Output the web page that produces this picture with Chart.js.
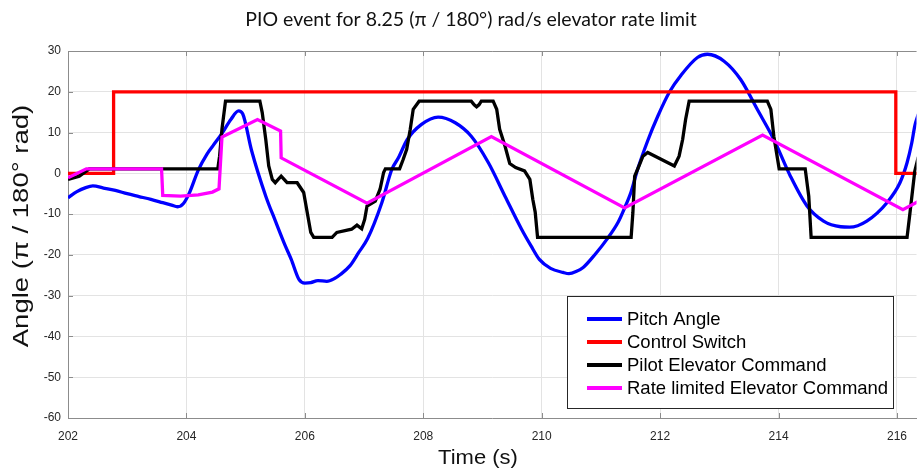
<!DOCTYPE html>
<html>
<head>
<meta charset="utf-8">
<script src="https://cdn.jsdelivr.net/npm/chart.js@4.4.0/dist/chart.umd.min.js"></script>
<style>
  html, body { margin: 0; padding: 0; background: #fff; }
</style>
</head>
<body>
<canvas id="pio" width="918" height="471"></canvas>
<script>
// time in s, angles in pi/180 rad
const pitchT = [202.0, 202.15, 202.3, 202.42, 202.6, 202.8, 203.0, 203.2, 203.4, 203.6,
  203.75, 203.85, 203.95, 204.05, 204.2, 204.35, 204.45, 204.6, 204.75, 204.88,
  204.95, 205.1, 205.34, 205.5, 205.67, 205.77, 205.9, 206.0, 206.1, 206.22,
  206.37, 206.5, 206.6, 206.76, 206.91, 207.06, 207.3, 207.47, 207.58, 207.73,
  207.97, 208.25, 208.54, 208.81, 209.1, 209.38, 209.66, 209.82, 209.96, 210.15,
  210.36, 210.46, 210.58, 210.7, 210.9, 211.1, 211.29, 211.4, 211.51, 211.62,
  211.79, 211.96, 212.16, 212.35, 212.63, 212.8, 213.08, 213.36, 213.64, 213.92,
  214.2, 214.48, 214.76, 215.05, 215.2, 215.49, 215.83, 216.05, 216.17, 216.25,
  216.3, 216.36];
const pitchV = [-6.0, -4.5, -3.5, -3.1, -3.6, -4.2, -5.0, -5.7, -6.4, -7.2,
  -7.8, -8.2, -7.4, -4.8, 0.8, 4.8, 6.8, 9.8, 13.2, 15.3,
  14.6, 5.6, -5.6, -11.6, -17.8, -21.1, -26.0, -26.9, -26.8, -26.3,
  -26.5, -25.8, -24.8, -22.7, -19.4, -16.0, -7.2, 1.0, 3.8, 8.3,
  12.0, 13.8, 12.4, 9.1, 2.6, -5.6, -13.7, -17.8, -21.1, -23.3,
  -24.3, -24.6, -24.1, -23.1, -19.9, -16.2, -12.0, -8.5, -4.5, 1.0,
  8.0, 14.0, 20.0, 24.0, 28.4, 29.2, 27.5, 23.0, 15.7, 8.3,
  -0.7, -8.0, -11.7, -13.1, -13.2, -11.7, -7.2, -2.3, 2.6, 7.5,
  11.6, 14.5];

const switchT = [202.0, 202.77, 202.77, 215.98, 215.98, 216.4];
const switchV = [0, 0, 20, 20, 0, 0];

const pilotT = [202.0, 202.19, 202.36, 204.53, 204.56, 204.6, 204.66, 205.24, 205.28, 205.34,
  205.39, 205.45, 205.5, 205.55, 205.6, 205.65, 205.7, 205.87, 205.98, 206.04,
  206.1, 206.15, 206.46, 206.54, 206.79, 206.88, 206.96, 207.01, 207.05, 207.19,
  207.27, 207.33, 207.36, 207.6, 207.66, 207.72, 207.78, 207.83, 207.93, 208.81,
  208.86, 208.9, 208.94, 208.98, 209.18, 209.24, 209.29, 209.38, 209.46, 209.56,
  209.71, 209.8, 209.85, 209.89, 209.93, 211.51, 211.54, 211.57, 211.62, 211.71,
  211.79, 212.24, 212.32, 212.38, 212.43, 212.49, 213.81, 213.87, 213.92, 214.01,
  214.45, 214.51, 214.55, 216.17, 216.22, 216.3, 216.36];
const pilotV = [-1.5, -0.7, 1.1, 1.1, 4.2, 10.8, 17.7, 17.7, 14.9, 8.3,
  1.8, -1.5, -2.3, -1.5, -0.7, -1.5, -2.3, -2.3, -4.7, -9.6,
  -14.5, -15.7, -15.7, -14.5, -13.7, -12.7, -13.6, -11.3, -8.0, -6.8,
  -3.9, 0.2, 1.1, 1.1, 3.4, 5.9, 10.8, 15.7, 17.7, 17.7,
  16.8, 16.3, 16.8, 17.7, 17.7, 15.7, 10.8, 6.7, 2.4, 1.4,
  0.6, -1.5, -6.4, -9.5, -15.7, -15.7, -9.6, -0.7, 1.0, 4.2,
  5.1, 1.8, 4.2, 8.3, 13.2, 17.7, 17.7, 15.7, 9.1, 1.1,
  1.1, -5.6, -15.7, -15.7, -9.6, 0.5, 4.0];

const rateT = [202.0, 202.31, 203.58, 203.6, 203.9, 204.2, 204.44, 204.55, 204.6, 205.2,
  205.59, 205.6, 207.05, 209.15, 211.4, 213.73, 216.1, 216.36];
const rateV = [-1.1, 1.1, 1.1, -5.4, -5.6, -5.3, -4.6, -3.8, 8.9, 13.2,
  10.4, 3.8, -7.3, 9.0, -8.5, 9.4, -8.9, -6.9];

const xTicks = { min: 202, max: 216.33, step: 2 };
const yTicks = { min: -60, max: 30, step: 10 };

const chartTitle = 'PIO event for 8.25 (\u03c0 / 180\u00b0) rad/s elevator rate limit';
const xTitle = 'Time (s)';
const yTitle = 'Angle (\u03c0 / 180\u00b0 rad)';

const toXY = (ts, vs) => ts.map((t, i) => ({ x: t, y: vs[i] }));

const series = [
  { label: 'Pitch Angle', color: '#0000ff', data: toXY(pitchT, pitchV), smooth: true, order: 4 },
  { label: 'Control Switch', color: '#ff0000', data: toXY(switchT, switchV), order: 3 },
  { label: 'Pilot Elevator Command', color: '#000000', data: toXY(pilotT, pilotV), order: 2 },
  { label: 'Rate limited Elevator Command', color: '#ff00ff', data: toXY(rateT, rateV), order: 1 }
];

const axisGray = '#8c8c8c';

// stretched text, the axis labels are a bit wider than plain Arial
function stretchedText(ctx, text, x, y, rot, sx) {
  ctx.save();
  ctx.translate(x, y);
  ctx.rotate(rot);
  ctx.scale(sx, 1);
  ctx.fillText(text, 0, 0);
  ctx.restore();
}

// frame on top + inward tick marks, matlab style
const frame = {
  id: 'frame',
  beforeDatasetsDraw(chart) {
    const { ctx, chartArea: a, scales: { x, y } } = chart;
    ctx.save();
    ctx.strokeStyle = axisGray;
    ctx.lineWidth = 1;
    ctx.beginPath();
    ctx.moveTo(a.left, a.top + 0.5);
    ctx.lineTo(a.right, a.top + 0.5);
    x.ticks.forEach(t => {
      const px = Math.round(x.getPixelForValue(t.value)) + 0.5;
      ctx.moveTo(px, a.top);
      ctx.lineTo(px, a.top + 5);
      ctx.moveTo(px, a.bottom);
      ctx.lineTo(px, a.bottom - 5);
    });
    y.ticks.forEach(t => {
      const py = Math.round(y.getPixelForValue(t.value)) + 0.5;
      ctx.moveTo(a.left, py);
      ctx.lineTo(a.left + 5, py);
    });
    ctx.stroke();
    ctx.restore();
  },
  afterDraw(chart) {
    const { ctx } = chart;
    ctx.save();
    ctx.fillStyle = '#111';
    ctx.textAlign = 'center';
    ctx.textBaseline = 'middle';

    ctx.font = '19.5px Lato';
    ctx.fillText(chartTitle, 471, 20);

    ctx.font = '20px "Liberation Sans"';
    stretchedText(ctx, xTitle, 478, 458, 0, 1.1);
    ctx.font = '22px "Liberation Sans"';
    stretchedText(ctx, yTitle, 22, 226, -Math.PI / 2, 1.25);

    // legend box, lower right of the axes
    const bx = 567, by = 296, bw = 327, bh = 113;
    ctx.fillStyle = '#fff';
    ctx.fillRect(bx, by, bw, bh);
    ctx.strokeStyle = '#262626';
    ctx.lineWidth = 1;
    ctx.strokeRect(bx + 0.5, by + 0.5, bw - 1, bh - 1);
    ctx.font = '18.5px "Liberation Sans"';
    ctx.textAlign = 'left';
    series.forEach((s, i) => {
      const ry = by + 23 + i * 23;
      ctx.strokeStyle = s.color;
      ctx.lineWidth = 4;
      ctx.beginPath();
      ctx.moveTo(bx + 20, ry);
      ctx.lineTo(bx + 55, ry);
      ctx.stroke();
      ctx.fillStyle = '#000';
      ctx.fillText(s.label, bx + 60, ry + 1);
    });
    ctx.restore();
  }
};

new Chart(document.getElementById('pio'), {
  type: 'line',
  data: {
    datasets: series.map(s => ({
      label: s.label,
      data: s.data,
      borderColor: s.color,
      backgroundColor: s.color,
      borderWidth: 3.3,
      pointRadius: 0,
      tension: 0,
      cubicInterpolationMode: s.smooth ? 'monotone' : 'default',
      order: s.order
    }))
  },
  options: {
    responsive: false,
    devicePixelRatio: 1,
    animation: false,
    layout: { padding: { top: 51, left: 0, right: 0, bottom: 0 } },
    plugins: {
      legend: { display: false },
      title: { display: false },
      tooltip: { enabled: false }
    },
    scales: {
      x: {
        type: 'linear',
        min: xTicks.min,
        max: xTicks.max,
        afterBuildTicks: scale => {
          const ticks = [];
          for (let v = xTicks.min; v <= xTicks.max; v += xTicks.step) ticks.push({ value: v });
          scale.ticks = ticks;
        },
        afterFit: scale => { scale.height = 53; },
        grid: { color: '#e3e3e3', drawTicks: false },
        border: { color: axisGray, width: 1 },
        ticks: {
          padding: 11,
          color: '#262626',
          font: { family: '"Liberation Sans"', size: 12 },
          maxRotation: 0
        }
      },
      y: {
        min: yTicks.min,
        max: yTicks.max,
        afterFit: scale => { scale.width = 68; },
        grid: { color: '#e3e3e3', drawTicks: false },
        border: { color: axisGray, width: 1 },
        ticks: {
          stepSize: yTicks.step,
          padding: 7,
          color: '#262626',
          font: { family: '"Liberation Sans"', size: 12 }
        }
      }
    }
  },
  plugins: [frame]
});
</script>
</body>
</html>
